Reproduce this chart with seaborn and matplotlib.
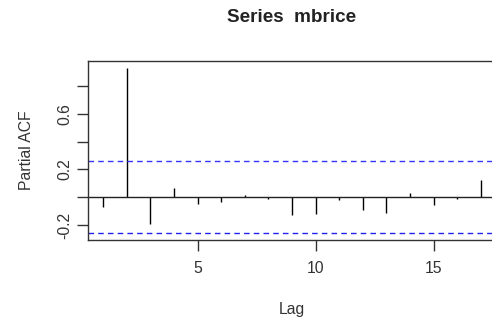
import matplotlib
matplotlib.use("Agg")
import matplotlib.pyplot as plt
import seaborn as sns
import numpy as np
import pandas as pd

# data
lags = list(range(1, 18))
pacf = [-0.07, 0.93, -0.19, 0.066, -0.045, -0.035, 0.02, -0.012, -0.13,
        -0.12, -0.018, -0.09, -0.115, 0.03, -0.055, -0.012, 0.122]
conf = 0.258
yticks = [-0.2, 0.0, 0.2, 0.4, 0.6, 0.8]
ytick_labels = ["-0.2", "", "0.2", "", "0.6", ""]
xticks = [5, 10, 15]
xtick_labels = ["5", "10", "15"]
title = "Series  mbrice"
xlabel = "Lag"
ylabel = "Partial ACF"

df = pd.DataFrame({"lag": lags, "pacf": pacf})

sns.set_style("ticks")
plt.rcParams["font.family"] = ["Liberation Sans", "DejaVu Sans"]

fig = plt.figure(figsize=(4.92, 3.20), dpi=100)
ax = fig.add_axes([88 / 492, 80 / 320, 408 / 492, 179 / 320])

ax.vlines(df["lag"], 0, df["pacf"], color="black", linewidth=1.0)
ax.axhline(0, color="#222222", linewidth=1.0)
ax.axhline(conf, color="#3333ff", linewidth=1.0, linestyle=(0, (4, 3)))
ax.axhline(-conf, color="#2222ee", linewidth=1.0, linestyle=(0, (4, 3)))

ax.set_xlim(0.36, 17.64)
ax.set_ylim(-0.306, 0.978)
ax.set_xticks(xticks)
ax.set_xticklabels(xtick_labels)
ax.set_yticks(yticks)
ax.set_yticklabels(ytick_labels, rotation=90, va="center")

for s in ax.spines.values():
    s.set_color("#333333")
    s.set_linewidth(1.0)

ax.tick_params(axis="both", direction="out", length=8, width=1.0,
               color="#333333", labelsize=11.3, labelcolor="#333333")
ax.tick_params(axis="x", pad=7)
ax.tick_params(axis="y", pad=3)

ax.set_xlabel(xlabel, fontsize=11.3, color="#333333", labelpad=19)
ax.set_ylabel(ylabel, fontsize=11.3, color="#333333", labelpad=17)
fig.text(292 / 492, 1 - 18 / 320, title, ha="center", va="center",
         fontsize=13.6, fontweight="bold", color="#222222")

fig.savefig("out.png", dpi=100)
